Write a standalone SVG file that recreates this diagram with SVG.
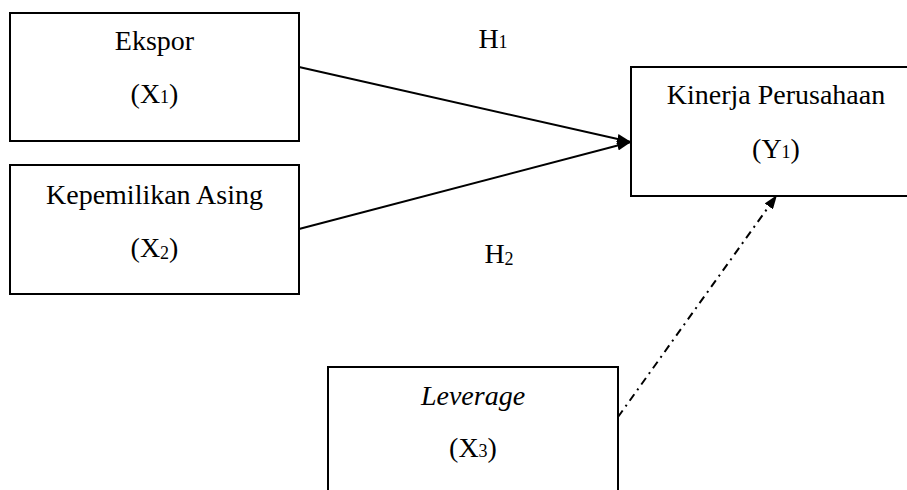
<svg xmlns="http://www.w3.org/2000/svg" width="907" height="490" viewBox="0 0 907 490">
<defs>
<style>
.box{fill:#fff;stroke:#000;stroke-width:2}
.t{font-family:'Liberation Serif','Times New Roman',serif;font-size:28px;fill:#000;text-anchor:middle}
.sub{font-size:18px}
.ln{fill:none;stroke:#000;stroke-width:2}
.dd{stroke-dasharray:8 5 2 5}
</style>
<marker id="ah" viewBox="0 0 14 10" refX="14" refY="5" markerWidth="14" markerHeight="10" markerUnits="userSpaceOnUse" orient="auto">
<path d="M0,0 L14,5 L0,10 Z" fill="#000"/>
</marker>
</defs>
<rect width="907" height="490" fill="#fff"/>
<g id="connectors">
<line class="ln" x1="299" y1="67" x2="631" y2="142" marker-end="url(#ah)"/>
<line class="ln" x1="299" y1="229" x2="631" y2="142" marker-end="url(#ah)"/>
<line class="ln dd" x1="618" y1="417" x2="777" y2="195" marker-end="url(#ah)"/>
</g>
<g id="x1">
<rect class="box" x="10" y="13" width="289" height="128"/>
<text class="t" x="154.5" y="50">Ekspor</text>
<text class="t" x="154.5" y="103">(X<tspan class="sub">1</tspan>)</text>
</g>
<g id="x2">
<rect class="box" x="10" y="165" width="289" height="129"/>
<text class="t" x="154.5" y="204">Kepemilikan Asing</text>
<text class="t" x="154.5" y="257">(X<tspan class="sub" dy="2">2</tspan><tspan dy="-2">)</tspan></text>
</g>
<g id="y1">
<rect class="box" x="631" y="67" width="300" height="129"/>
<text class="t" x="776" y="104">Kinerja Perusahaan</text>
<text class="t" x="776" y="158">(Y<tspan class="sub">1</tspan>)</text>
</g>
<g id="x3">
<rect class="box" x="328" y="367" width="290" height="140"/>
<text class="t" x="473" y="405" font-style="italic">Leverage</text>
<text class="t" x="473" y="457">(X<tspan class="sub">3</tspan>)</text>
</g>
<g id="labels">
<text class="t" x="493" y="48">H<tspan class="sub">1</tspan></text>
<text class="t" x="499" y="263">H<tspan class="sub" dy="2">2</tspan></text>
</g>
</svg>
